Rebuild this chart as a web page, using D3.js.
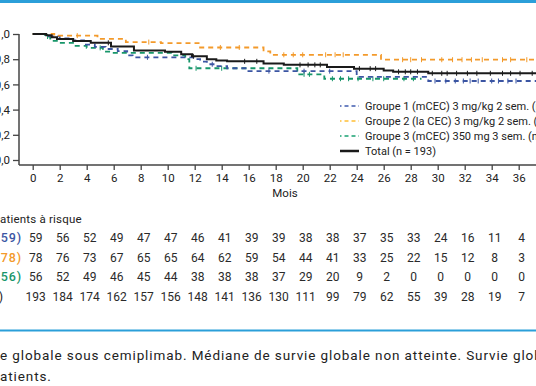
<!DOCTYPE html>
<html>
<head>
<meta charset="utf-8">
<script src="https://cdn.jsdelivr.net/npm/d3@7"></script>
<style>
  body { margin: 0; background: #fff; overflow: hidden; }
  svg { display: block; font-family: Roboto, "DejaVu Sans", sans-serif; }
</style>
</head>
<body>
<div id="chart"></div>
<script>
var width = 536, height = 386;

// survival curves: [mois, survie] step points, last point = end of follow-up
var groupe1 = [[0,1],[1.2,0.983],[2.0,0.966],[3.0,0.949],[3.8,0.915],[4.6,0.898],[5.4,0.881],[6.3,0.864],[7.0,0.83],[7.4,0.815],[11.9,0.80],[12.4,0.78],[12.9,0.76],[13.6,0.745],[14.4,0.728],[15.9,0.705],[24.0,0.66],[29.3,0.627],[37.5,0.627]];
var groupe2 = [[0,1],[1.6,0.987],[4.8,0.962],[6.9,0.936],[9.5,0.927],[12.4,0.893],[17.1,0.862],[17.6,0.835],[25.8,0.796],[37.5,0.796]];
var groupe3 = [[0,1],[0.9,0.98],[1.3,0.945],[1.9,0.93],[3.1,0.905],[4.0,0.89],[5.2,0.86],[5.9,0.85],[10.3,0.83],[11.3,0.80],[11.6,0.728],[19.6,0.68],[21.6,0.645],[28.8,0.645]];
var total = [[0,1],[1.0,0.99],[1.4,0.975],[1.8,0.96],[3.0,0.945],[4.3,0.93],[5.8,0.90],[7.5,0.87],[9.8,0.86],[11.0,0.84],[11.8,0.823],[12.9,0.80],[13.6,0.79],[14.4,0.783],[17.1,0.765],[18.6,0.755],[21.8,0.738],[23.8,0.725],[26.0,0.71],[26.7,0.70],[29.3,0.688],[37.5,0.688]];

// censures (mois)
var cens1 = [8.5, 13.3, 17.5, 20.1, 22.0, 29.8, 30.6, 31.3, 31.9, 32.4, 33.0, 34.0, 34.5, 35.2, 35.8];
var cens2 = [3.3, 8.6, 13.9, 15.3, 18.6, 19.3, 20.0, 21.7, 22.4, 23.0, 27.4, 28.0, 28.8, 30.3, 31.1, 31.8, 32.5, 33.3, 34.8, 35.4, 36.6];
var cens3 = [1.1, 5.0, 12.1, 14.0, 20.1, 20.5, 22.2, 22.8, 23.4, 24.1, 25.2, 26.0, 27.5, 28.2];
var censT = [5.6, 11.9, 15.7, 16.6, 19.8, 20.4, 20.9, 21.3, 24.2, 25.0, 25.4, 27.1, 27.6, 28.0, 28.5, 29.6, 30.3, 30.7, 31.4, 32.2, 32.9, 33.9, 34.8, 35.4, 36.1, 37.0];

var xTicks = d3.range(0, 37, 2);
var yTicks = [0, 0.2, 0.4, 0.6, 0.8, 1.0];

var series = ["Groupe 1 (mCEC) 3 mg/kg 2 sem. (n = 59)", "Groupe 2 (la CEC) 3 mg/kg 2 sem. (n = 78)", "Groupe 3 (mCEC) 350 mg 3 sem. (n = 56)", "Total (n = 193)"];
var rowLabels = ["Groupe 1 (n = 59)", "Groupe 2 (n = 78)", "Groupe 3 (n = 56)", "Total (n = 193)"];
var colors = ["#3b55a3", "#f39a2b", "#17966a", "#1a1a1a"];

var risk1 = [59, 56, 52, 49, 47, 47, 46, 41, 39, 39, 38, 38, 37, 35, 33, 24, 16, 11, 4];
var risk2 = [78, 76, 73, 67, 65, 65, 64, 62, 59, 54, 44, 41, 33, 25, 22, 15, 12, 8, 3];
var risk3 = [56, 52, 49, 46, 45, 44, 38, 38, 38, 37, 29, 20, 9, 2, 0, 0, 0, 0, 0];
var riskT = [193, 184, 174, 162, 157, 156, 148, 141, 136, 130, 111, 99, 79, 62, 55, 39, 28, 19, 7];

var svg = d3.select("#chart").append("svg")
    .attr("width", width)
    .attr("height", height);

var x = d3.scaleLinear().domain([0, 36]).range([32.7, 518.7]);
var y = d3.scaleLinear().domain([0, 1]).range([160, 34]);

// bandeau bleu
svg.append("line").attr("x1", 0).attr("x2", width).attr("y1", 1.5).attr("y2", 1.5)
    .attr("stroke", "#2b9fd9").attr("stroke-width", 3);
svg.append("line").attr("x1", 0).attr("x2", width).attr("y1", 330.5).attr("y2", 330.5)
    .attr("stroke", "#2b9fd9").attr("stroke-width", 2);

// axes
var yAxis = svg.append("g")
    .attr("transform", "translate(19,0)")
    .call(d3.axisLeft(y).tickValues(yTicks).tickSize(6).tickPadding(3)
      .tickFormat(function (d) { return d3.format(".1f")(d).replace(".", ","); }));
yAxis.select(".domain").remove();
yAxis.append("line").attr("x1", 0).attr("x2", 0).attr("y1", y(1)).attr("y2", 165)
    .attr("stroke", "#444").attr("stroke-width", 1.5);

var xAxis = svg.append("g")
    .attr("transform", "translate(0,165)")
    .call(d3.axisBottom(x).tickValues(xTicks).tickSize(5).tickPadding(4));
xAxis.select(".domain").remove();
xAxis.append("line").attr("x1", 19).attr("x2", width).attr("y1", 0).attr("y2", 0)
    .attr("stroke", "#444").attr("stroke-width", 1.5);

svg.selectAll(".tick line").attr("stroke", "#444").attr("stroke-width", 1.3);
svg.selectAll(".tick text").attr("font-size", 11.5).attr("fill", "#222")
    .attr("font-family", "Roboto, sans-serif");

svg.append("text").attr("x", 285).attr("y", 193).attr("dy", "0.35em").attr("text-anchor", "middle")
    .attr("font-size", 11.5).attr("fill", "#222").text("Mois");

// courbes
var line = d3.line()
    .x(function (d) { return x(d[0]); })
    .y(function (d) { return y(d[1]); })
    .curve(d3.curveStepAfter);

function valueAt(curve, t) {
  var v = curve[0][1];
  curve.forEach(function (p) { if (p[0] <= t) v = p[1]; });
  return v;
}

var curves = [groupe3, groupe1, groupe2, total];
var cens = [cens3, cens1, cens2, censT];
var cols = [colors[2], colors[0], colors[1], colors[3]];

curves.forEach(function (c, i) {
  var dashed = i < 3;
  svg.append("path")
      .datum(c)
      .attr("d", line)
      .attr("fill", "none")
      .attr("stroke", cols[i])
      .attr("stroke-width", dashed ? 1.8 : 2)
      .attr("stroke-dasharray", dashed ? "5,4" : null);

  svg.append("g").selectAll("line")
      .data(cens[i])
      .enter()
      .append("line")
      .attr("x1", function (t) { return x(t); })
      .attr("x2", function (t) { return x(t); })
      .attr("y1", function (t) { return y(valueAt(c, t)) - 2.5; })
      .attr("y2", function (t) { return y(valueAt(c, t)) + 2.5; })
      .attr("stroke", cols[i])
      .attr("stroke-width", 1);
});

// legende
var leg = svg.append("g").attr("transform", "translate(340,106)");
series.forEach(function (s, i) {
  var g = leg.append("g").attr("transform", "translate(0," + (i * 15) + ")");
  g.append("line").attr("x1", 0).attr("x2", 19).attr("y1", 0).attr("y2", 0)
      .attr("stroke", i < 3 ? d3.color(colors[i]).brighter(i == 1 ? 0.6 : 0.2) : colors[3])
      .attr("stroke-width", i < 3 ? 1.5 : 2.5)
      .attr("stroke-dasharray", i < 3 ? "1.5,3,4,3,4,3" : null);
  g.append("text").attr("x", 25).attr("y", 0).attr("dy", "0.35em")
      .attr("font-size", 11).attr("fill", "#222").text(s);
});

// patients a risque
function measure(txt, size, ls) {
  var t = svg.append("text").attr("font-size", size).attr("letter-spacing", ls || 0).text(txt);
  var w = t.node().getComputedTextLength();
  t.remove();
  return w;
}

svg.append("text").attr("x", -measure("Nombre de p", 11.5, 0.2)).attr("y", 219).attr("dy", "0.35em")
    .attr("font-size", 11.5).attr("letter-spacing", 0.2).attr("fill", "#222").text("Nombre de patients à risque");

var risks = [risk1, risk2, risk3, riskT];
var rowY = [238, 257.5, 277, 297];
var labelEnd = [22, 22, 22, 4];
risks.forEach(function (r, i) {
  svg.append("text").attr("x", labelEnd[i]).attr("y", rowY[i]).attr("dy", "0.35em")
      .attr("text-anchor", "end").attr("font-size", 12.5).attr("letter-spacing", 0.9)
      .attr("font-weight", i < 3 ? 500 : 400)
      .attr("fill", colors[i]).text(rowLabels[i]);
  svg.append("g").selectAll("text")
      .data(r)
      .enter()
      .append("text")
      .attr("x", function (d, j) { return x(xTicks[j]) + 3; })
      .attr("y", rowY[i])
      .attr("dy", "0.35em")
      .attr("text-anchor", "middle")
      .attr("font-size", 12)
      .attr("fill", "#2a2a2a")
      .text(function (d) { return d; });
});

// legende de figure
var cap1 = "Survie globale sous cemiplimab. Médiane de survie globale non atteinte. Survie globale à 12 mois";
svg.append("text").attr("x", -measure("Survi", 13.5, 0.9)).attr("y", 355).attr("dy", "0.35em")
    .attr("font-size", 13.5).attr("letter-spacing", 0.9).attr("fill", "#222").text(cap1);
svg.append("text").attr("x", -measure("p", 13.5, 0.9)).attr("y", 376).attr("dy", "0.35em")
    .attr("font-size", 13.5).attr("letter-spacing", 0.9).attr("fill", "#222").text("patients.");
</script>
</body>
</html>
